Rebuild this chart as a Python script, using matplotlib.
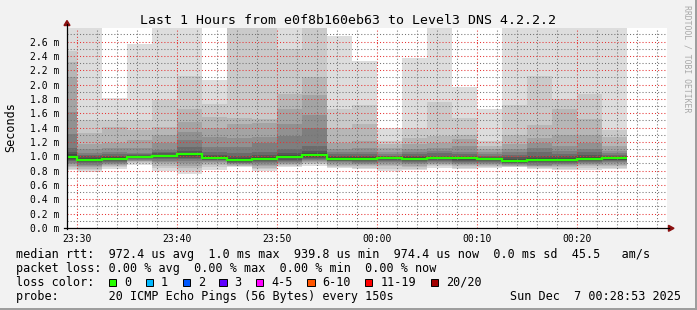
import matplotlib
matplotlib.use("Agg")
import matplotlib.pyplot as plt
from matplotlib.patches import Rectangle, Polygon
from matplotlib.lines import Line2D
from matplotlib.ticker import FixedLocator, MultipleLocator, FuncFormatter

W, H = 697, 310
MONO = "DejaVu Sans Mono"

# time axis in minutes after 23:00, one smoke step = 150 s
step_start = 27.5
step_len = 2.5
x_range = (28.97, 88.97)
y_max = 2.79

# median rtt per step (ms)
median_ms = [0.995, 0.954, 0.968, 0.995, 1.009, 1.027, 0.981, 0.950, 0.968, 0.995,
             1.023, 0.968, 0.968, 0.981, 0.968, 0.977, 0.972, 0.963, 0.940, 0.954,
             0.954, 0.968, 0.974]

# 20 sorted ping times per step (ms)
pings_ms = [
    [0.81, 0.83, 0.85, 0.87, 0.89, 0.91, 0.93, 0.95, 0.96, 0.98, 1.01, 1.03, 1.06, 1.12, 1.31, 1.62, 2.11, 2.31, 2.47, 3.00],
    [0.785, 0.81, 0.83, 0.85, 0.87, 0.885, 0.90, 0.915, 0.93, 0.945, 0.965, 0.98, 1.00, 1.02, 1.05, 1.10, 1.17, 1.32, 1.51, 3.00],
    [0.83, 0.85, 0.865, 0.88, 0.895, 0.91, 0.925, 0.94, 0.95, 0.96, 0.975, 0.99, 1.01, 1.03, 1.06, 1.11, 1.18, 1.41, 1.51, 1.81],
    [0.88, 0.90, 0.915, 0.93, 0.94, 0.95, 0.96, 0.97, 0.98, 0.99, 1.00, 1.01, 1.02, 1.03, 1.05, 1.11, 1.23, 1.37, 1.51, 2.57],
    [0.80, 0.84, 0.87, 0.90, 0.92, 0.94, 0.96, 0.975, 0.99, 1.00, 1.015, 1.025, 1.04, 1.06, 1.09, 1.19, 1.30, 1.41, 1.78, 3.00],
    [0.76, 0.80, 0.84, 0.87, 0.90, 0.93, 0.96, 0.98, 1.00, 1.02, 1.035, 1.05, 1.08, 1.13, 1.23, 1.34, 1.48, 1.66, 2.12, 3.00],
    [0.81, 0.85, 0.88, 0.90, 0.915, 0.93, 0.945, 0.955, 0.965, 0.975, 0.99, 1.00, 1.02, 1.06, 1.13, 1.27, 1.40, 1.55, 1.73, 2.06],
    [0.85, 0.86, 0.87, 0.88, 0.89, 0.90, 0.91, 0.92, 0.93, 0.94, 0.96, 0.975, 1.00, 1.05, 1.13, 1.25, 1.45, 1.53, 2.90, 3.20],
    [0.79, 0.82, 0.84, 0.86, 0.88, 0.90, 0.915, 0.93, 0.945, 0.96, 0.975, 0.99, 1.02, 1.06, 1.18, 1.27, 1.46, 1.52, 2.90, 3.20],
    [0.845, 0.865, 0.88, 0.895, 0.91, 0.925, 0.94, 0.955, 0.97, 0.985, 1.005, 1.02, 1.05, 1.10, 1.29, 1.45, 1.66, 1.87, 2.50, 3.00],
    [0.87, 0.89, 0.905, 0.92, 0.935, 0.95, 0.965, 0.98, 0.995, 1.01, 1.035, 1.05, 1.08, 1.15, 1.40, 1.57, 1.85, 2.10, 2.90, 3.20],
    [0.84, 0.855, 0.87, 0.885, 0.90, 0.915, 0.93, 0.94, 0.95, 0.96, 0.975, 0.99, 1.01, 1.03, 1.06, 1.10, 1.19, 1.40, 1.66, 2.68],
    [0.82, 0.84, 0.86, 0.875, 0.89, 0.905, 0.92, 0.935, 0.95, 0.96, 0.975, 0.99, 1.01, 1.03, 1.06, 1.12, 1.22, 1.45, 1.72, 2.33],
    [0.80, 0.83, 0.86, 0.885, 0.905, 0.925, 0.94, 0.955, 0.965, 0.975, 0.985, 0.99, 1.00, 1.01, 1.03, 1.06, 1.12, 1.17, 1.22, 1.40],
    [0.81, 0.83, 0.85, 0.87, 0.89, 0.905, 0.92, 0.935, 0.95, 0.96, 0.975, 0.985, 1.00, 1.03, 1.06, 1.10, 1.17, 1.25, 1.40, 2.37],
    [0.84, 0.86, 0.88, 0.895, 0.91, 0.925, 0.94, 0.95, 0.96, 0.97, 0.985, 0.99, 1.01, 1.04, 1.08, 1.12, 1.19, 1.29, 1.76, 3.00],
    [0.82, 0.84, 0.86, 0.875, 0.895, 0.91, 0.925, 0.94, 0.955, 0.965, 0.98, 0.99, 1.01, 1.03, 1.06, 1.15, 1.24, 1.30, 1.53, 1.97],
    [0.84, 0.85, 0.86, 0.875, 0.89, 0.905, 0.92, 0.935, 0.945, 0.955, 0.97, 0.98, 0.995, 1.01, 1.03, 1.06, 1.10, 1.15, 1.21, 1.66],
    [0.85, 0.855, 0.86, 0.87, 0.88, 0.89, 0.90, 0.91, 0.92, 0.93, 0.95, 0.965, 0.99, 1.02, 1.06, 1.10, 1.17, 1.30, 1.72, 3.00],
    [0.83, 0.84, 0.85, 0.86, 0.87, 0.885, 0.90, 0.915, 0.93, 0.945, 0.965, 0.98, 1.01, 1.06, 1.12, 1.18, 1.26, 1.43, 2.12, 3.00],
    [0.81, 0.83, 0.845, 0.86, 0.875, 0.89, 0.905, 0.92, 0.935, 0.946, 0.962, 0.975, 1.00, 1.03, 1.08, 1.15, 1.30, 1.66, 1.80, 3.00],
    [0.81, 0.84, 0.86, 0.875, 0.89, 0.905, 0.92, 0.935, 0.95, 0.96, 0.976, 0.99, 1.02, 1.06, 1.10, 1.19, 1.30, 1.52, 1.87, 3.00],
    [0.82, 0.84, 0.86, 0.88, 0.90, 0.915, 0.93, 0.945, 0.955, 0.965, 0.98, 0.99, 1.00, 1.02, 1.04, 1.08, 1.15, 1.27, 1.37, 3.00],
]

tick_pos = [30, 40, 50, 60, 70, 80]
tick_labels = ["23:30", "23:40", "23:50", "00:00", "00:10", "00:20"]

loss_labels = ["0", "1", "2", "3", "4-5", "6-10", "11-19", "20/20"]
loss_colors = ["#26ff00", "#00b8ff", "#0059ff", "#5e00ff", "#ff00ff", "#ff5500", "#ff0000", "#a10000"]
loss_swatch_x = [108.7, 145.7, 182.7, 219.3, 256.0, 307.3, 365.0, 430.7]

title = "Last 1 Hours from e0f8b160eb63 to Level3 DNS 4.2.2.2"
legend_lines = [
    "median rtt:  972.4 us avg  1.0 ms max  939.8 us min  974.4 us now  0.0 ms sd  45.5   am/s",
    "packet loss: 0.00 % avg  0.00 % max  0.00 % min  0.00 % now",
    "loss color:",
    "probe:       20 ICMP Echo Pings (56 Bytes) every 150s",
]
stamp = "Sun Dec  7 00:28:53 2025"


def fx(x):
    return x / W


def fy(y):
    return 1 - y / H


fig = plt.figure(figsize=(W / 100, H / 100), dpi=100)
fig.patch.set_facecolor("#f2f2f2")

ax = fig.add_axes([fx(67), fy(228), 600 / W, 200 / H])
ax.set_facecolor("white")
ax.set_xlim(*x_range)
ax.set_ylim(0, y_max)

# smoke: band k spans ping k .. ping 21-k, outer bands lighter
n = len(median_ms)
edges = [step_start + i * step_len for i in range(n + 1)]
for k in range(10):
    g = (19 * (9 - k) + 50) / 255
    lo = [p[k] for p in pings_ms]
    hi = [p[19 - k] for p in pings_ms]
    ax.bar(edges[:-1], [h - l for h, l in zip(hi, lo)], bottom=lo, width=step_len,
           align="edge", color=(g, g, g), linewidth=0, zorder=1)

ax.stairs(median_ms, edges, color="#26ff00", linewidth=1.6, baseline=None, zorder=4)

# grid
ax.xaxis.set_major_locator(FixedLocator(tick_pos))
ax.xaxis.set_minor_locator(MultipleLocator(2))
ax.yaxis.set_major_locator(MultipleLocator(0.2))
ax.yaxis.set_minor_locator(MultipleLocator(0.1))
ax.set_xticklabels(tick_labels)
ax.yaxis.set_major_formatter(FuncFormatter(lambda v, p: f"{v:.1f} m"))
ax.set_axisbelow(False)
ax.grid(which="minor", color=(0.45, 0.45, 0.45, 0.25), linestyle=(0, (1, 2)), linewidth=0.75)
ax.grid(which="major", color=(0.9, 0.2, 0.2, 0.3), linestyle=(0, (1, 2)), linewidth=0.75)
ax.tick_params(which="both", length=0)
ax.tick_params(axis="x", pad=4.0, labelsize=7)
ax.tick_params(axis="y", pad=5.5, labelsize=7)
for lab in ax.get_xticklabels() + ax.get_yticklabels():
    lab.set_fontfamily(MONO)
for s in ax.spines.values():
    s.set_visible(False)

# axes lines with arrows
fig.add_artist(Line2D([fx(67), fx(67)], [fy(228.5), fy(24)], color="black", lw=0.9))
fig.add_artist(Line2D([fx(64), fx(669)], [fy(228.3), fy(228.3)], color="black", lw=0.9))
fig.add_artist(Polygon([[fx(64), fy(25.5)], [fx(70), fy(25.5)], [fx(67), fy(20.5)]],
                       closed=True, color="#8b1010", transform=fig.transFigure))
fig.add_artist(Polygon([[fx(668.5), fy(225.3)], [fx(668.5), fy(231.3)], [fx(674), fy(228.3)]],
                       closed=True, color="#8b1010", transform=fig.transFigure))

# texts
fig.text(fx(347.5), fy(24), title, ha="center", va="baseline", fontsize=9.55, family=MONO)
fig.text(fx(11), fy(127.5), "Seconds", rotation=90, ha="center", va="center",
         fontsize=8.5, family=MONO)
fig.text(fx(687), fy(5), "RRDTOOL / TOBI OETIKER", rotation=270, ha="center", va="top",
         fontsize=5.9, family=MONO, color="#a8a8a8")

baselines = [257.8, 271.8, 285.8, 299.6]
for line, yb in zip(legend_lines, baselines):
    fig.text(fx(16), fy(yb), line, ha="left", va="baseline", fontsize=8.5, family=MONO)
fig.text(fx(680.5), fy(299.6), stamp, ha="right", va="baseline", fontsize=8.5, family=MONO)

for lab, col, x0 in zip(loss_labels, loss_colors, loss_swatch_x):
    fig.add_artist(Rectangle((fx(x0), fy(286.3)), 7.3 / W, 7.6 / H, facecolor=col,
                             edgecolor="black", linewidth=0.7, transform=fig.transFigure))
    fig.text(fx(x0 + 15.3), fy(285.8), lab, ha="left", va="baseline", fontsize=8.5, family=MONO)

# frame shading
fig.add_artist(Rectangle((fx(694.5), 0), 2.5 / W, 1, facecolor="#9e9e9e", linewidth=0,
                         transform=fig.transFigure))
fig.add_artist(Rectangle((0, 0), 1, 2.5 / H, facecolor="#9e9e9e", linewidth=0,
                         transform=fig.transFigure))

fig.savefig("out.png", dpi=100, facecolor=fig.get_facecolor())
